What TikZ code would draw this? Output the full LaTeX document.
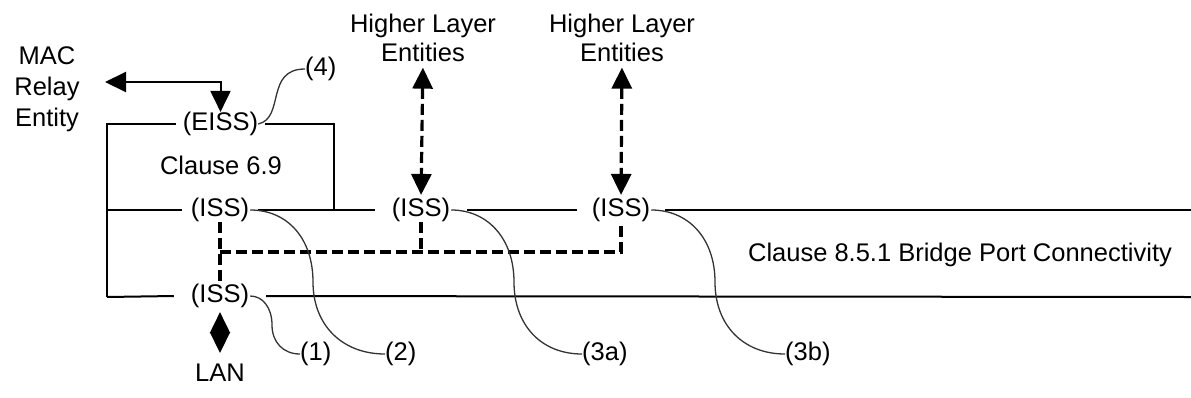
\documentclass[tikz,border=0pt]{standalone}
\usepackage{fontspec}
\setmainfont{Liberation Sans}
\usetikzlibrary{arrows.meta,calc}
\begin{document}
\begin{tikzpicture}[x=1pt,y=-1pt,
  every node/.style={font=\fontsize{25.5}{29.5}\selectfont, text=black},
  ln/.style={line width=2pt, black},
  dsh/.style={line width=3.2pt, black, dash pattern=on 11pt off 5pt},
  cv/.style={line width=1.3pt, black!80},
  tri/.style={{Triangle[length=21pt,width=20pt]}-{Triangle[length=21pt,width=20pt]}},
  lbl/.style={inner ysep=0pt},
  tag/.style={inner sep=0pt, anchor=west},
  plain/.style={inner sep=0pt},
]
\useasboundingbox (0,0) rectangle (1191,397);

% text nodes
\node[plain, align=center, anchor=north, font=\fontsize{25.5}{31}\selectfont] (mac) at (47,46) {MAC\\Relay\\Entity};
\node[plain, align=center, anchor=north, font=\fontsize{25.5}{29}\selectfont] (hl1) at (423,13.5) {Higher Layer\\Entities};
\node[plain, align=center, anchor=north, font=\fontsize{25.5}{29}\selectfont] (hl2) at (622,13.5) {Higher Layer\\Entities};

\node[lbl, inner xsep=7pt] (eiss) at (220.5,124) {(EISS)};
\node[lbl, inner xsep=9pt] (iss1) at (220,210) {(ISS)};
\node[lbl, inner xsep=17pt] (iss2) at (421,210) {(ISS)};
\node[lbl, inner xsep=15pt] (iss3) at (621,210) {(ISS)};
\node[lbl, inner xsep=17pt] (iss0) at (220,296) {(ISS)};

\node[plain, anchor=base] (c69) at (221,174) {Clause 6.9};
\node[plain, anchor=base] (c851) at (960,261) {Clause 8.5.1 Bridge Port Connectivity};
\node[plain] (lan) at (220,373) {LAN};

\node[tag] (n4) at (305,69) {(4)};
\node[tag] (n1) at (300,354) {(1)};
\node[tag] (n2) at (385,354) {(2)};
\node[tag] (n3a) at (582,354) {(3a)};
\node[tag] (n3b) at (785,354) {(3b)};

% coordinates
\coordinate (boxBL) at (107,297);
\coordinate (boxTL) at (107,124);
\coordinate (boxTR) at (334,124);
\coordinate (boxR) at (334,210);
\coordinate (lEnd1) at (107,210);
\coordinate (rEnd1) at (1191,210);
\coordinate (rEnd0) at (1191,297);
\coordinate (macin) at (105,82);
\coordinate (busL) at (220,252);
\coordinate (busR) at (621,252);

% solid lines
\draw[ln] (boxBL) -- (boxTL) -- (eiss.west);
\draw[ln] (eiss.east) -- (boxTR) -- (boxR);
\draw[ln] (lEnd1) -- (iss1.west);
\draw[ln] (iss1) -- (iss2);
\draw[ln] (iss2) -- (iss3);
\draw[ln] (iss3) -- (rEnd1);
\draw[ln] (boxBL) -- (iss0.west);
\draw[ln] (iss0) -- (rEnd0);

% arrows
\draw[ln, tri] (macin) -| (eiss.north);
\draw[dsh, tri, shorten <=6pt, shorten >=3pt] (hl1.south) -- (iss2.north);
\draw[dsh, tri, shorten <=6pt, shorten >=3pt] (hl2.south) -- (iss3.north);
\draw[ln, tri, shorten <=4pt, shorten >=11pt] (iss0.south) -- (lan.north);

% dashed connectivity
\draw[dsh] (iss1.south) -- (iss0.north);
\draw[dsh] (busL) -- (busR) -- (iss3.south);
\draw[dsh] (iss2.south) -- (iss2.south |- busL);

% callout curves
\draw[cv] ([xshift=-7pt]eiss.east) .. controls (285,118) and (265,69) .. (n4.west);
\draw[cv] ([xshift=-16pt]iss0.east) .. controls (263,296) and (272,308) .. (272,325) .. controls (272,342) and (283,354) .. (n1.west);
\draw[cv] ([xshift=-8pt]iss1.east) .. controls (288,210) and (313,239) .. (313,282) .. controls (313,325) and (342,354) .. (n2.west);
\draw[cv] ([xshift=-16pt]iss2.east) .. controls (488,210) and (514,239) .. (514,282) .. controls (514,325) and (541,354) .. (n3a.west);
\draw[cv] ([xshift=-14pt]iss3.east) .. controls (689,210) and (715,239) .. (715,282) .. controls (715,325) and (743,354) .. (n3b.west);
\end{tikzpicture}
\end{document}
